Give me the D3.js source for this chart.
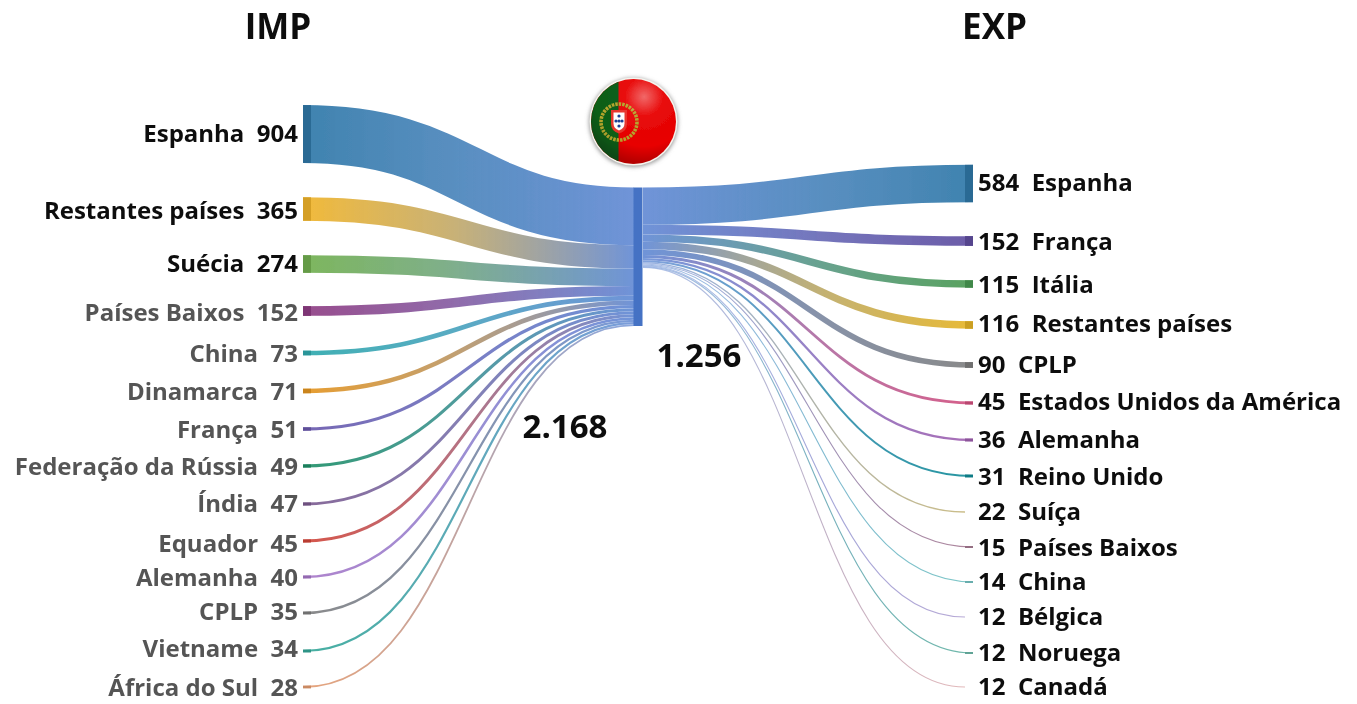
<!DOCTYPE html>
<html><head><meta charset="utf-8">
<script src="https://d3js.org/d3.v7.min.js"></script>
<style>
html,body{margin:0;padding:0;background:#fff}
text{font-family:"Open Sans",Lato,sans-serif;font-weight:700;white-space:pre}
</style></head><body>
<svg id="c" width="1357" height="704"></svg>
<script>
const impNames=["Espanha","Restantes países","Suécia","Países Baixos","China","Dinamarca","França","Federação da Rússia","Índia","Equador","Alemanha","CPLP","Vietname","África do Sul"];
const impValues=[904,365,274,152,73,71,51,49,47,45,40,35,34,28];
const impColors=["#2f78a8","#f0b42a","#72b04f","#8f3d83","#2fa9ad","#e5951f","#6a5aad","#1f9068","#7d5c90","#d2463a","#a878c8","#7f7f7f","#35a898","#e59c70"];
const expNames=["Espanha","França","Itália","Restantes países","CPLP","Estados Unidos da América","Alemanha","Reino Unido","Suíça","Países Baixos","China","Bélgica","Noruega","Canadá"];
const expValues=[584,152,115,116,90,45,36,31,22,15,14,12,12,12];
const expColors=["#2f78a8","#5f4da0","#4a9a52","#e6b424","#7f7f7f","#d2507f","#a060b0","#128c98","#c8b87c","#a87c94","#72c2c2","#b2a2d2","#62b2a2","#e2b2b2"];
const noCap=["Suíça","Bélgica","Canadá"];
const impTotal="2.168", expTotal="1.256";
const titles=["IMP","EXP"];
const centerColor="#7094d8", centerNode="#4472c4";

const svg=d3.select("#c");
const defs=svg.append("defs");
const soft=defs.append("filter").attr("id","soft").attr("filterUnits","userSpaceOnUse").attr("x",0).attr("y",0).attr("width",1357).attr("height",704);
soft.append("feGaussianBlur").attr("stdDeviation",.4);
const root=svg.append("g").attr("filter","url(#soft)");
const thick=d3.scaleLinear().domain([0,d3.sum(impValues)]).range([0,138.5]);
const yImp=d3.scaleLinear().domain(d3.range(14)).range([134,209,264,311,353,391,429,466,504,541,577,613,651,687]);
const yExp=d3.scaleLinear().domain(d3.range(14)).range([183.5,241,284,325,365,403,440,476,512,547,582,617,653,687]);
const yImpText=d3.scaleLinear().domain(d3.range(14)).range([134,211,264,313,354,392,430,467,504,544,578,612,649,688]);
const yExpText=d3.scaleLinear().domain(d3.range(14)).range([183,242,285,324,365,402,440,477,512,548,582,617,653,687]);
const link=d3.linkHorizontal();
const X={l0:303,l1:634,r0:643,r1:973,cap:8,nodeW:9,top:187.5};

function side(names,values,colors,yS,x0,x1,flip,cls){
  const cum=[0,...d3.cumsum(values)];
  names.forEach((n,i)=>{
    const w=thick(values[i]);
    const yC=X.top+thick(cum[i])+w/2, yO=yS(i);
    const id=cls+i;
    const nearCenter=Math.min(1,.35+values[i]/60);
    const g=defs.append("linearGradient").attr("id",id).attr("gradientUnits","userSpaceOnUse")
      .attr("x1",flip?x1:x0).attr("x2",flip?x0:x1).attr("y1",0).attr("y2",0);
    g.append("stop").attr("offset","0%").attr("stop-color",colors[i]).attr("stop-opacity",.92);
    g.append("stop").attr("offset","45%").attr("stop-color",d3.interpolateRgb(colors[i],centerColor)(.35)).attr("stop-opacity",.9);
    g.append("stop").attr("offset","100%").attr("stop-color",centerColor).attr("stop-opacity",nearCenter);
    const end=(flip&&noCap.includes(n))?x1-8:x1;
    const d=flip?link({source:[x0,yC],target:[end,yO]}):link({source:[x0,yO],target:[x1,yC]});
    root.append("path").attr("d",d).attr("fill","none").attr("stroke",`url(#${id})`).attr("stroke-width",Math.max(w,1.1));
    if(!noCap.includes(n)||!flip){
      const capH=Math.max(w,Math.min(3,w+1));
      root.append("rect").attr("x",flip?x1-X.cap:x0).attr("y",yO-capH/2).attr("width",X.cap).attr("height",capH)
        .attr("fill",d3.color(colors[i]).darker(.35));
    }
  });
}
side(impNames,impValues,impColors,yImp,X.l0,X.l1,false,"li");
side(expNames,expValues,expColors,yExp,X.r0,X.r1,true,"le");
root.append("rect").attr("x",X.l1-.5).attr("y",X.top).attr("width",X.nodeW).attr("height",thick(d3.sum(impValues))).attr("fill",centerNode);

const FS=24;
impNames.forEach((n,i)=>{
  root.append("text").attr("x",298).attr("y",yImpText(i)+7.5).attr("text-anchor","end").attr("font-size",FS)
    .attr("fill",i<3?"#111":"#555").text(n+"  "+impValues[i]);
});
expNames.forEach((n,i)=>{
  root.append("text").attr("x",978).attr("y",yExpText(i)+7.5).attr("font-size",FS).attr("fill","#111").text(expValues[i]+"  "+n);
});
root.append("text").attr("x",278).attr("y",39).attr("text-anchor","middle").attr("font-size",35).attr("fill","#111").text(titles[0]);
root.append("text").attr("x",994.5).attr("y",39).attr("text-anchor","middle").attr("font-size",35).attr("fill","#111").text(titles[1]);
root.append("text").attr("x",565).attr("y",437.5).attr("text-anchor","middle").attr("font-size",33).attr("fill","#111").text(impTotal);
root.append("text").attr("x",699).attr("y",366.5).attr("text-anchor","middle").attr("font-size",33).attr("fill","#111").text(expTotal);

// flag badge
const cx=633.5,cy=121.5,r=44;
const sh=defs.append("filter").attr("id","sh").attr("x","-30%").attr("y","-30%").attr("width","160%").attr("height","160%");
sh.append("feGaussianBlur").attr("stdDeviation",2.2);
defs.append("clipPath").attr("id","fc").append("circle").attr("cx",cx).attr("cy",cy).attr("r",r-1.5);
const hl=defs.append("radialGradient").attr("id","hl").attr("cx","62%").attr("cy","22%").attr("r","75%");
hl.append("stop").attr("offset","0%").attr("stop-color","#fff").attr("stop-opacity",.4);
hl.append("stop").attr("offset","30%").attr("stop-color","#fff").attr("stop-opacity",.03);
hl.append("stop").attr("offset","75%").attr("stop-color","#000").attr("stop-opacity",0);
hl.append("stop").attr("offset","100%").attr("stop-color","#000").attr("stop-opacity",.22);
root.append("circle").attr("cx",cx).attr("cy",cy+1).attr("r",r+.5).attr("fill","#999").attr("filter","url(#sh)");
root.append("circle").attr("cx",cx).attr("cy",cy).attr("r",r).attr("fill","#f4f4ee");
const f=root.append("g").attr("clip-path","url(#fc)");
f.append("rect").attr("x",cx-r).attr("y",cy-r).attr("width",r*2).attr("height",r*2).attr("fill","#e80404");
f.append("rect").attr("x",cx-r).attr("y",cy-r).attr("width",618.5-(cx-r)).attr("height",r*2).attr("fill","#0b5e18");
f.append("circle").attr("cx",619).attr("cy",122).attr("r",18).attr("fill","none").attr("stroke","#b5a52c").attr("stroke-width",3.6).attr("stroke-dasharray","2.5 1");
f.append("path").attr("d","M611 110h16v14q0 7-8 9.500q-8-2.500-8-9.500z").attr("fill","#e8342c");
f.append("path").attr("d","M613.500 112.500h11v11q0 5-5.500 7q-5.500-2-5.500-7z").attr("fill","#fff");
[[619,116],[616,121],[619,121],[622,121],[619,126]].forEach(p=>f.append("circle").attr("cx",p[0]).attr("cy",p[1]).attr("r",1.6).attr("fill","#1c3f94"));
f.append("rect").attr("x",cx-r).attr("y",cy-r).attr("width",r*2).attr("height",r*2).attr("fill","url(#hl)");
</script></body></html>
